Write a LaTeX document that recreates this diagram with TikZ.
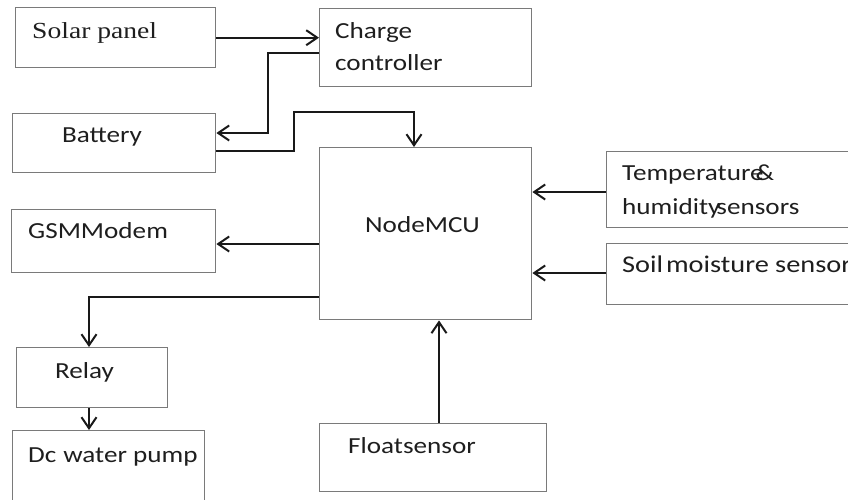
\documentclass[tikz,border=0pt]{standalone}
\usepackage{fontspec}
\newfontfamily\carl[FakeStretch=1.18]{Carlito}
\newfontfamily\tnr[FakeStretch=1.2]{Liberation Serif}
\usetikzlibrary{arrows.meta}
\definecolor{boxgray}{HTML}{7A7A7A}
\definecolor{txt}{HTML}{1E1E1E}
\begin{document}
\begin{tikzpicture}[x=1pt,y=-1pt,
  box/.style={draw=boxgray, line width=1.4pt, inner sep=0pt, anchor=north west},
  lbl/.style={anchor=base west, inner sep=0pt, text=txt, font=\carl\fontsize{23}{33}\selectfont},
  arr/.style={draw=black!90, line width=2pt, -{Straight Barb[length=11pt,width=15pt]}}]
\useasboundingbox (0,0) rectangle (848,499);
\clip (0,0) rectangle (848,499);
% boxes
\node[box, minimum width=200pt, minimum height=60pt] (solar) at (15,7) {};
\node[box, minimum width=212pt, minimum height=78pt] (charge) at (319,8) {};
\node[box, minimum width=203pt, minimum height=59pt] (battery) at (12,113) {};
\node[box, minimum width=212pt, minimum height=172pt] (mcu) at (319,147) {};
\node[box, minimum width=204pt, minimum height=63pt] (gsm) at (11,209) {};
\node[box, minimum width=151pt, minimum height=60pt] (relay) at (16,347) {};
\node[box, minimum width=192pt, minimum height=90pt] (pump) at (12,430) {};
\node[box, minimum width=227pt, minimum height=68pt] (float) at (319,423) {};
\node[box, minimum width=254pt, minimum height=76pt] (temp) at (606,151) {};
\node[box, minimum width=254pt, minimum height=61pt] (soil) at (606,243) {};
% texts
\node[lbl] (tsolar) at (32,38) {\tnr Solar panel};
\node[lbl] (tcharge1) at (335,38) {Charge};
\node[lbl] (tcharge2) at (335,70) {controller};
\node[lbl] (tbattery) at (62,142) {Battery};
\node[lbl] (tmcu) at (365,232) {NodeMCU};
\node[lbl] (tgsm) at (28,238) {GSMModem};
\node[lbl] (trelay) at (55,378) {Relay};
\node[lbl] (tpump) at (28,462) {Dc\kern7pt water pump};
\node[lbl] (tfloat) at (348,453) {Floatsensor};
\node[lbl] (ttemp1) at (622,180) {Temperature\kern-8pt\&};
\node[lbl] (ttemp2) at (622,214) {humidity\kern-4pt sensors};
\node[lbl] (tsoil) at (622,272) {\fontsize{24}{33}\selectfont Soil\kern3pt moisture sensor};
% connectors
\draw[arr] (solar.east) -- (solar.east -| charge.west);
\draw[arr] (charge.west |- 0,53) -- (268,53) |- (battery.east |- 0,133);
\draw[arr] (battery.east |- 0,151) -- (294,151) |- (414,112) -- (414,0 |- mcu.north);
\draw[arr] (mcu.west |- 0,244) -- (gsm.east |- 0,244);
\draw[arr] (mcu.west |- 0,297) -| (89,0 |- relay.north);
\draw[arr] (89,0 |- relay.south) -- (89,0 |- pump.north);
\draw[arr] (439,0 |- float.north) -- (439,0 |- mcu.south);
\draw[arr] (temp.west |- 0,192) -- (mcu.east |- 0,192);
\draw[arr] (soil.west |- 0,273) -- (mcu.east |- 0,273);
\end{tikzpicture}
\end{document}
